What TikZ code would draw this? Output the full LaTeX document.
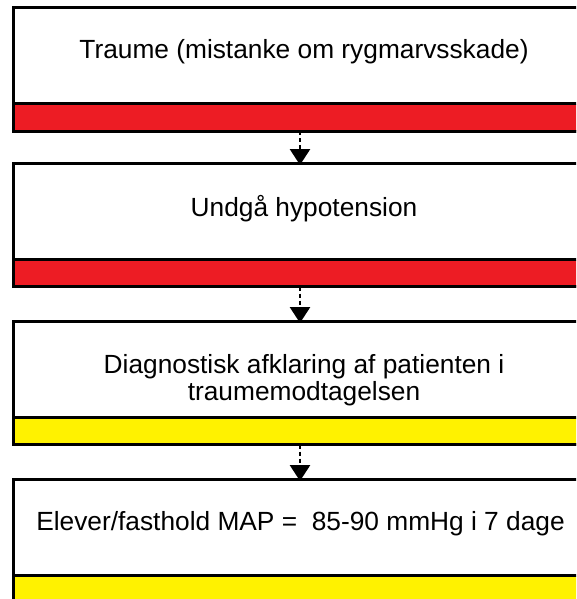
\documentclass[tikz,border=0pt]{standalone}
\usepackage{fontspec}
\setmainfont{Liberation Sans}
\usetikzlibrary{arrows.meta,calc}
\definecolor{bandred}{HTML}{ED1C24}
\definecolor{bandyellow}{HTML}{FFF200}
\begin{document}
\begin{tikzpicture}[x=1pt,y=-1pt,
  stepbox/.style={draw=black,line width=3pt,fill=white,minimum width=574pt,minimum height=123pt,inner sep=0pt,outer sep=0pt},
  lbl/.style={font=\fontsize{26.3}{27.5}\selectfont,align=center,anchor=base,inner sep=0pt},
  flow/.style={line width=2.8pt,dash pattern=on 4pt off 3pt,-{Triangle[width=20pt,length=16pt]},shorten >=-1.5pt}]
\useasboundingbox (0,0) rectangle (576,599);
\begin{scope}
\clip (0,0) rectangle (576,599);
\node[stepbox] (b1) at (300,69.5) {};
\node[stepbox] (b2) at (300,225) {};
\node[stepbox] (b3) at (300,383) {};
\node[stepbox] (b4) at (300,541) {};
\foreach \b/\c in {b1/bandred,b2/bandred,b3/bandyellow,b4/bandyellow}{
  \filldraw[fill=\c,draw=black,line width=3pt] ($(\b.south west)+(0,-27)$) rectangle (\b.south east);
}
\end{scope}
\node[lbl] (t1) at (304,59) {Traume (mistanke om rygmarvsskade)};
\node[lbl] (t2) at (304,216) {Undgå hypotension};
\node[lbl,anchor=north] (t3) at (304,354) {Diagnostisk afklaring af patienten i\\traumemodtagelsen};
\node[lbl] (t4) at (300.5,530) {Elever/fasthold MAP =\ \ 85-90 mmHg i 7 dage};
\draw[flow] (b1.south) -- (b2.north);
\draw[flow] (b2.south) -- (b3.north);
\draw[flow] (b3.south) -- (b4.north);
\end{tikzpicture}
\end{document}
